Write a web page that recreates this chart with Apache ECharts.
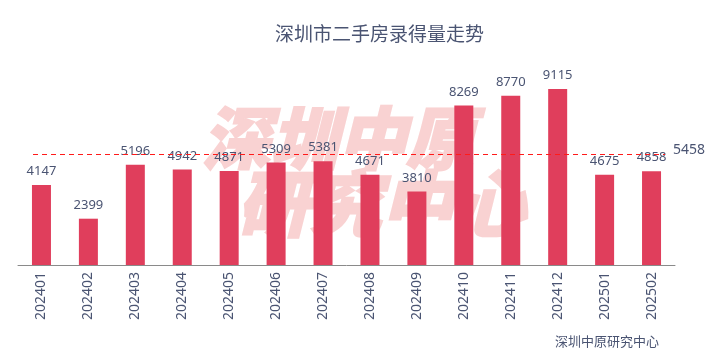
<!DOCTYPE html>
<html>
<head>
<meta charset="utf-8">
<script src="https://cdn.jsdelivr.net/npm/echarts@6/dist/echarts.min.js"></script>
<style>
html,body{margin:0;padding:0;background:#fff;}
#main{width:721px;height:363px;}
</style>
</head>
<body>
<div id="main"></div>
<script>
const categories = ['202401','202402','202403','202404','202405','202406','202407','202408','202409','202410','202411','202412','202501','202502'];
const volumes = [4147, 2399, 5196, 4942, 4871, 5309, 5381, 4671, 3810, 8269, 8770, 9115, 4675, 4858];
const titleText = '深圳市二手房录得量走势';
const sourceText = '深圳中原研究中心';
const watermarkLines = ['深圳中原', '研究中心'];

const textColor = '#4a5472';
const chart = echarts.init(document.getElementById('main'), null, {renderer: 'canvas'});
const wmFill = '#f9d2d2';

chart.setOption({
  animation: false,
  backgroundColor: '#ffffff',
  title: {
    text: titleText,
    left: 270,
    top: 19,
    textStyle: {color: textColor, fontSize: 19, fontWeight: 'normal', fontFamily: '"Noto Sans CJK SC"'}
  },
  graphic: [
    {type: 'text', left: 201, top: 103, z: -10, silent: true,
     style: {text: watermarkLines[0], font: 'italic 900 68px "Noto Sans CJK SC"', fill: wmFill, stroke: wmFill, lineWidth: 2}},
    {type: 'text', left: 236, top: 167, z: -10, silent: true,
     style: {text: watermarkLines[1], font: 'italic 900 72px "Noto Sans CJK SC"', fill: wmFill, stroke: wmFill, lineWidth: 2}},
    {type: 'text', left: 555, top: 335, z: 10,
     style: {text: sourceText, font: '13px "Noto Sans CJK SC"', fill: textColor}}
  ],
  grid: [
    {left: 18, right: 46, top: 72, bottom: 98},
    {left: 33, right: 56, top: 72, bottom: 110}
  ],
  xAxis: [
    {
      type: 'category', gridIndex: 0, data: categories,
      axisLine: {lineStyle: {color: '#8a8a8a'}},
      axisTick: {show: false},
      axisLabel: {rotate: 90, color: textColor, fontSize: 14, margin: 7, fontFamily: '"Noto Sans"'}
    },
    {type: 'category', gridIndex: 1, data: categories, boundaryGap: false, show: false}
  ],
  yAxis: [
    {type: 'value', gridIndex: 0, min: 0, max: 10000, show: false, splitLine: {show: false}},
    {type: 'value', gridIndex: 1, min: 0, max: 10000, show: false, splitLine: {show: false}}
  ],
  series: [
    {
      type: 'bar', xAxisIndex: 0, yAxisIndex: 0, data: volumes, barWidth: 19, z: 2,
      itemStyle: {color: '#e03e5c'},
      label: {show: true, position: 'top', distance: 7, color: textColor, fontSize: 13, fontFamily: '"Noto Sans"'}
    },
    {
      type: 'line', xAxisIndex: 1, yAxisIndex: 1, data: volumes, z: 5,
      symbol: 'none', lineStyle: {opacity: 0}, silent: true,
      markLine: {
        silent: true, symbol: 'none', precision: 0,
        lineStyle: {color: '#ff1a1a', type: [5, 4], width: 1},
        label: {position: 'end', color: textColor, fontSize: 14, distance: 8, offset: [0, -4], fontFamily: '"Noto Sans"'},
        data: [{type: 'average'}]
      }
    }
  ]
});
</script>
</body>
</html>
